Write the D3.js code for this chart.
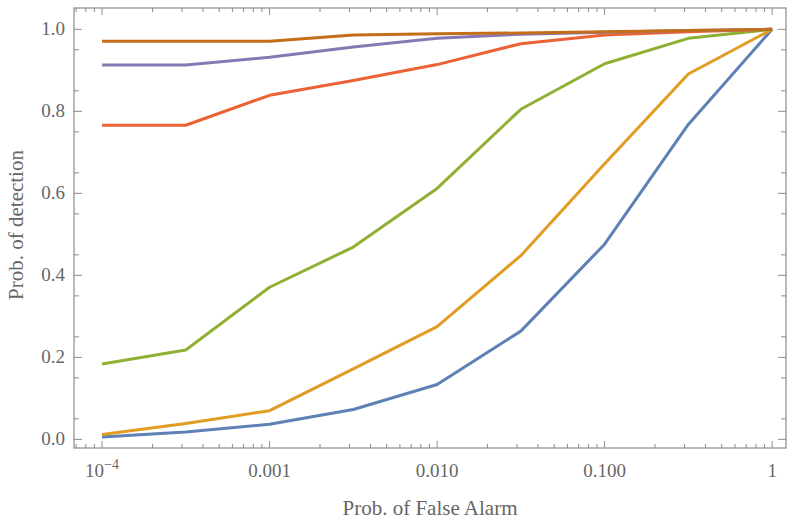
<!DOCTYPE html>
<html>
<head>
<meta charset="utf-8">
<script src="https://cdn.jsdelivr.net/npm/d3@7"></script>
<style>
    body { margin: 0; background: #fff; }
    text { font-family: "Liberation Serif", "DejaVu Serif", serif; fill: #666; }
</style>
</head>
<body>
<script>
// data
const falseAlarm = [0.0001, 0.000316, 0.001, 0.00316, 0.01, 0.0316, 0.1, 0.316, 1]

const detBlue   = [0.006, 0.018, 0.037, 0.073, 0.134, 0.264, 0.476, 0.768, 1]
const detOrange = [0.012, 0.039, 0.070, 0.172, 0.275, 0.448, 0.672, 0.891, 1]
const detGreen  = [0.184, 0.218, 0.371, 0.469, 0.612, 0.805, 0.916, 0.978, 1]
const detRed    = [0.766, 0.766, 0.839, 0.875, 0.914, 0.965, 0.986, 0.994, 1]
const detPurple = [0.913, 0.913, 0.932, 0.957, 0.978, 0.988, 0.993, 0.997, 1]
const detBrown  = [0.971, 0.971, 0.971, 0.986, 0.989, 0.991, 0.994, 0.997, 1]

const xTickValues = [0.0001, 0.001, 0.01, 0.1, 1]
const xTickLabels = ["10^−4", "0.001", "0.010", "0.100", "1"]
const yTickValues = [0, 0.2, 0.4, 0.6, 0.8, 1]
const yTickLabels = ["0.0", "0.2", "0.4", "0.6", "0.8", "1.0"]

const xTitle = "Prob. of False Alarm"
const yTitle = "Prob. of detection"

//----------------------------------------------------------------------------------------------
const width = 789
const height = 524
const margin = { top: 8, right: 3, bottom: 76, left: 74 }

const series = [
    { values: detBlue,   color: "#5e81b5" },
    { values: detOrange, color: "#e19c24" },
    { values: detGreen,  color: "#8fb032" },
    { values: detRed,    color: "#eb6235" },
    { values: detPurple, color: "#8778b3" },
    { values: detBrown,  color: "#c56e1a" }
]

const svg = d3.select("body")
    .append("svg")
    .attr("width", width)
    .attr("height", height)

const x = d3.scaleLog()
    .domain([6.8e-5, 1.21])
    .range([margin.left, width - margin.right])

const y = d3.scaleLinear()
    .domain([-0.021, 1.052])
    .range([height - margin.bottom, margin.top])

const x0 = x.range()[0], x1 = x.range()[1]
const y0 = y.range()[0], y1 = y.range()[1]

//minor ticks
let xMinor = []
for (let e = -5; e <= 0; e++) {
    for (let m = 2; m <= 9; m++) {
        const v = m * Math.pow(10, e)
        if (v > x.domain()[0] && v < x.domain()[1]) xMinor.push(v)
    }
}
let yMinor = d3.range(0.05, 1.0, 0.1)

//----------------------------------------------------------------------------------------------
// lines
const line = d3.line()
    .x((d, i) => x(falseAlarm[i]))
    .y(d => y(d))

svg.append("g")
    .selectAll("path")
    .data(series)
    .join("path")
    .attr("d", d => line(d.values))
    .attr("fill", "none")
    .attr("stroke", d => d.color)
    .attr("stroke-width", 3)
    .attr("stroke-linejoin", "round")

//----------------------------------------------------------------------------------------------
// frame + ticks on four sides
const frameColor = "#8c8c8c"
const ticks = svg.append("g").attr("stroke", frameColor).attr("stroke-width", 1)

function xTicks(vals, len) {
    vals.forEach(v => {
        ticks.append("line").attr("x1", x(v)).attr("x2", x(v)).attr("y1", y0).attr("y2", y0 - len)
        ticks.append("line").attr("x1", x(v)).attr("x2", x(v)).attr("y1", y1).attr("y2", y1 + len)
    })
}
function yTicks(vals, len) {
    vals.forEach(v => {
        ticks.append("line").attr("y1", y(v)).attr("y2", y(v)).attr("x1", x0).attr("x2", x0 + len)
        ticks.append("line").attr("y1", y(v)).attr("y2", y(v)).attr("x1", x1).attr("x2", x1 - len)
    })
}
xTicks(xTickValues, 7)
xTicks(xMinor, 4)
yTicks(yTickValues, 8)
yTicks(yMinor, 5)

svg.append("rect")
    .attr("x", x0)
    .attr("y", y1)
    .attr("width", x1 - x0)
    .attr("height", y0 - y1)
    .attr("fill", "none")
    .attr("stroke", frameColor)
    .attr("stroke-width", 1.2)

//----------------------------------------------------------------------------------------------
// tick labels
xTickValues.forEach((v, i) => {
    const t = svg.append("text")
        .attr("x", x(v))
        .attr("y", y0 + 29)
        .attr("text-anchor", "middle")
        .style("font-size", "19px")
    const parts = xTickLabels[i].split("^")
    t.append("tspan").text(parts[0])
    if (parts.length > 1) {
        t.append("tspan")
            .attr("dy", -8)
            .style("font-size", "14px")
            .text(parts[1])
    }
})

svg.selectAll(".ylab")
    .data(yTickValues)
    .join("text")
    .attr("class", "ylab")
    .attr("x", x0 - 9)
    .attr("y", d => y(d) + 6)
    .attr("text-anchor", "end")
    .style("font-size", "19px")
    .text((d, i) => yTickLabels[i])

// axis titles
svg.append("text")
    .attr("x", (x0 + x1) / 2)
    .attr("y", 515)
    .attr("text-anchor", "middle")
    .style("font-size", "21px")
    .text(xTitle)

svg.append("text")
    .attr("transform", `translate(23, ${(y0 + y1) / 2 - 3}) rotate(-90)`)
    .attr("text-anchor", "middle")
    .style("font-size", "21px")
    .text(yTitle)
</script>
</body>
</html>
